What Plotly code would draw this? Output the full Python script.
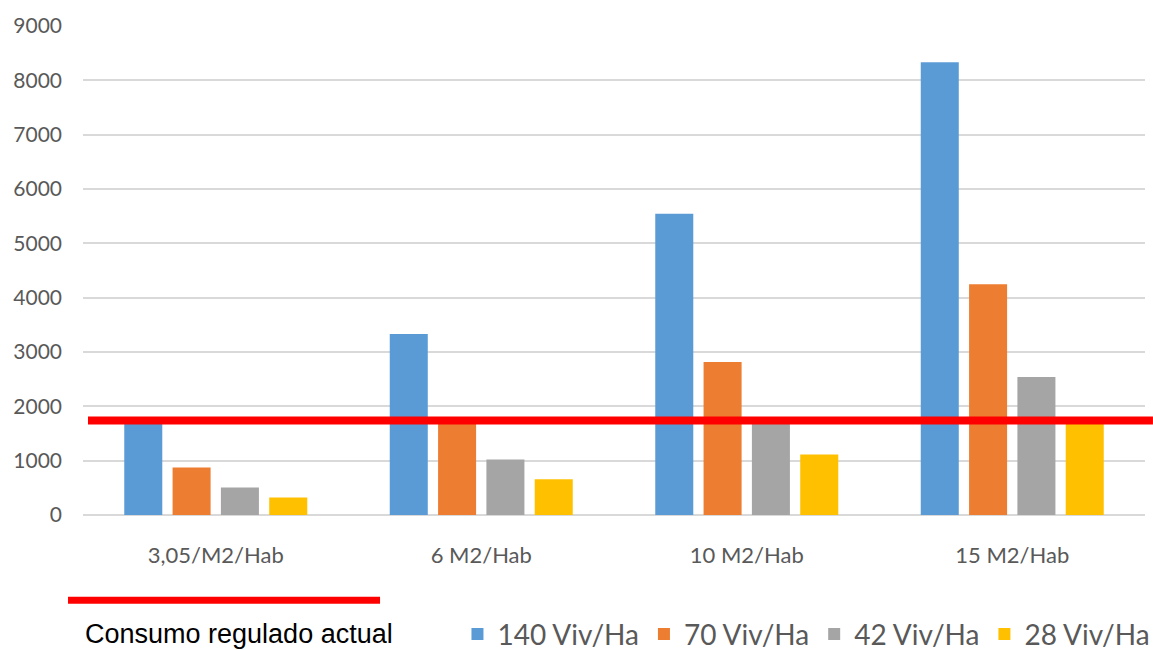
import plotly.graph_objects as go

# Categories (m2 per inhabitant) and consumption per housing density
categorias = ["3,05/M2/Hab", "6 M2/Hab", "10 M2/Hab", "15 M2/Hab"]
viv_140 = [1700, 3330, 5545, 8333]
viv_70 = [875, 1700, 2814, 4245]
viv_42 = [506, 1022, 1700, 2538]
viv_28 = [322, 659, 1114, 1700]
series_nombres = ["140 Viv/Ha", "70 Viv/Ha", "42 Viv/Ha", "28 Viv/Ha"]
series_colores = ["#5B9BD5", "#ED7D31", "#A5A5A5", "#FFC000"]

# Current regulated consumption threshold
consumo_regulado = 1737
consumo_etiqueta = "Consumo regulado actual"

y_ticks = list(range(0, 9001, 1000))

fig = go.Figure()
for nombre, valores, color in zip(series_nombres, [viv_140, viv_70, viv_42, viv_28], series_colores):
    fig.add_trace(go.Bar(
        x=categorias, y=valores, name=nombre,
        marker=dict(color=color, line=dict(width=0)),
    ))

# Threshold line across the chart
fig.add_shape(
    type="line", xref="paper", yref="y",
    x0=0.0047, x1=1.0075, y0=consumo_regulado, y1=consumo_regulado,
    line=dict(color="#FF0000", width=8), layer="above",
)

# Custom legend entry for the threshold line
fig.add_shape(
    type="line", xref="paper", yref="paper",
    x0=-0.0141, x1=0.2797, y0=-0.1745, y1=-0.1745,
    line=dict(color="#FF0000", width=7),
)
fig.add_annotation(
    text=consumo_etiqueta, xref="paper", yref="paper",
    x=0.1469, y=-0.244, showarrow=False, xanchor="center", yanchor="middle",
    font=dict(family="Liberation Sans, Arial, sans-serif", size=27, color="#000000"),
)

fig.update_layout(
    width=1153, height=650,
    margin=dict(l=83, r=8, t=26, b=135, autoexpand=False),
    paper_bgcolor="white", plot_bgcolor="white",
    barmode="group", bargap=0.272, bargroupgap=0.213,
    font=dict(family="Lato, sans-serif", color="#595959"),
    legend=dict(
        orientation="h", x=0.3526, xanchor="left", y=-0.244, yanchor="middle",
        font=dict(family="Lato, sans-serif", size=28, color="#595959"),
        bgcolor="rgba(0,0,0,0)", itemsizing="constant",
        tracegroupgap=0,
    ),
    xaxis=dict(
        showgrid=False, showline=False, zeroline=False, ticks="",
        tickfont=dict(family="Lato, sans-serif", size=22, color="#595959"),
        ticklabelstandoff=25,
    ),
    yaxis=dict(
        range=[0, 9000], tickvals=y_ticks, ticktext=[str(v) for v in y_ticks],
        showgrid=True, gridcolor="#D9D9D9", gridwidth=1.5,
        zeroline=True, zerolinecolor="#D9D9D9", zerolinewidth=1.5,
        showline=False, ticks="",
        tickfont=dict(family="Lato, sans-serif", size=21, color="#595959"),
        ticklabelstandoff=20,
    ),
)

fig.write_html("out.html")
